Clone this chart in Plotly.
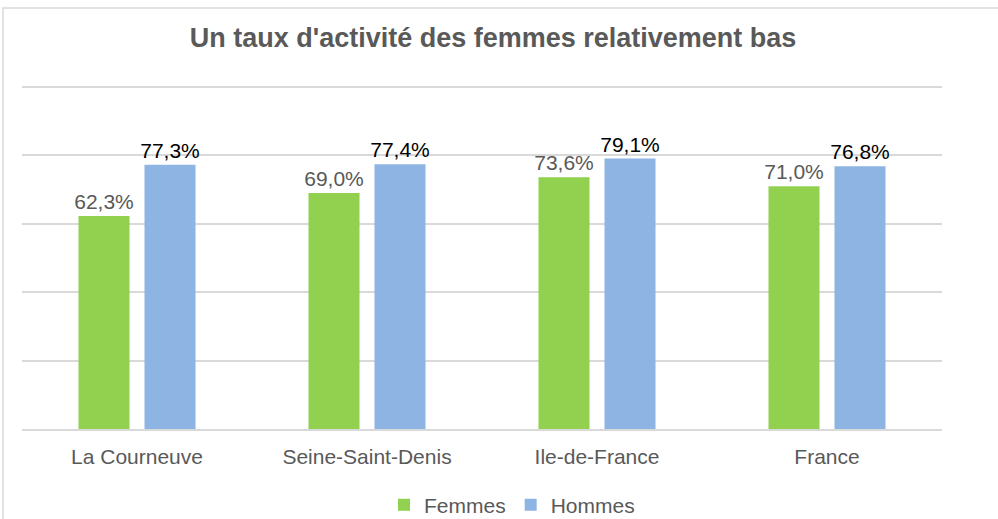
import plotly.graph_objects as go

categories = ["La Courneuve", "Seine-Saint-Denis", "Ile-de-France", "France"]
femmes = [62.3, 69.0, 73.6, 71.0]
hommes = [77.3, 77.4, 79.1, 76.8]
series_names = ["Femmes", "Hommes"]
title_text = "Un taux d'activité des femmes relativement bas"


def fmt(v):
    return f"{v:.1f}%".replace(".", ",")


fig = go.Figure()
fig.add_trace(go.Bar(
    x=categories, y=femmes, name=series_names[0],
    marker=dict(color="#92d050", line=dict(width=0)),
    text=[fmt(v) for v in femmes], textposition="outside", constraintext="none",
    textfont=dict(family="Liberation Sans, Arial", size=21, color="#595959"),
    cliponaxis=False, hoverinfo="skip",
))
fig.add_trace(go.Bar(
    x=categories, y=hommes, name=series_names[1],
    marker=dict(color="#8eb4e3", line=dict(width=0)),
    text=[fmt(v) for v in hommes], textposition="outside", constraintext="none",
    textfont=dict(family="Liberation Sans, Arial", size=21, color="#000000"),
    cliponaxis=False, hoverinfo="skip",
))

fig.update_layout(
    width=998, height=519,
    margin=dict(l=22, r=56, t=86, b=90, autoexpand=False),
    paper_bgcolor="white", plot_bgcolor="white",
    barmode="group", bargap=0.426, bargroupgap=0.227,
    font=dict(family="Liberation Sans, Arial", size=21, color="#595959"),
    title=dict(
        text=title_text, x=0.512, xref="paper", xanchor="center",
        y=1 - 38 / 519, yref="container", yanchor="middle",
        font=dict(family="Liberation Sans, Arial", size=27, color="#595959", weight="bold"),
    ),
    showlegend=True,
    legend=dict(
        orientation="h", x=0.5326, xanchor="center",
        yref="container", y=1 - 505 / 519, yanchor="middle",
        font=dict(size=21, color="#595959"), itemwidth=30,
        bgcolor="rgba(0,0,0,0)",
    ),
    xaxis=dict(
        showline=True, linecolor="#d9d9d9", linewidth=1.5, automargin=False,
        showgrid=False, ticks="", tickfont=dict(size=21, color="#595959"),
        ticklabelstandoff=8,
    ),
    yaxis=dict(
        range=[0, 100.3], tickvals=[20, 40, 60, 80, 100], showgrid=True,
        gridcolor="#d9d9d9", gridwidth=1.5, automargin=False,
        showticklabels=False, zeroline=False, ticks="", showline=False,
    ),
    shapes=[dict(
        type="rect", xref="paper", yref="paper",
        x0=(3 - 22) / 920, x1=(1005 - 22) / 920,
        y0=(429 - 530) / 343, y1=(429 - 8) / 343,
        line=dict(color="#d9d9d9", width=1.5), fillcolor="rgba(0,0,0,0)", layer="below",
    )],
)

fig.write_html(
    "out.html",
    config={"displayModeBar": False},
    post_script="document.body.style.margin='0px';document.body.style.overflow='hidden';",
)
